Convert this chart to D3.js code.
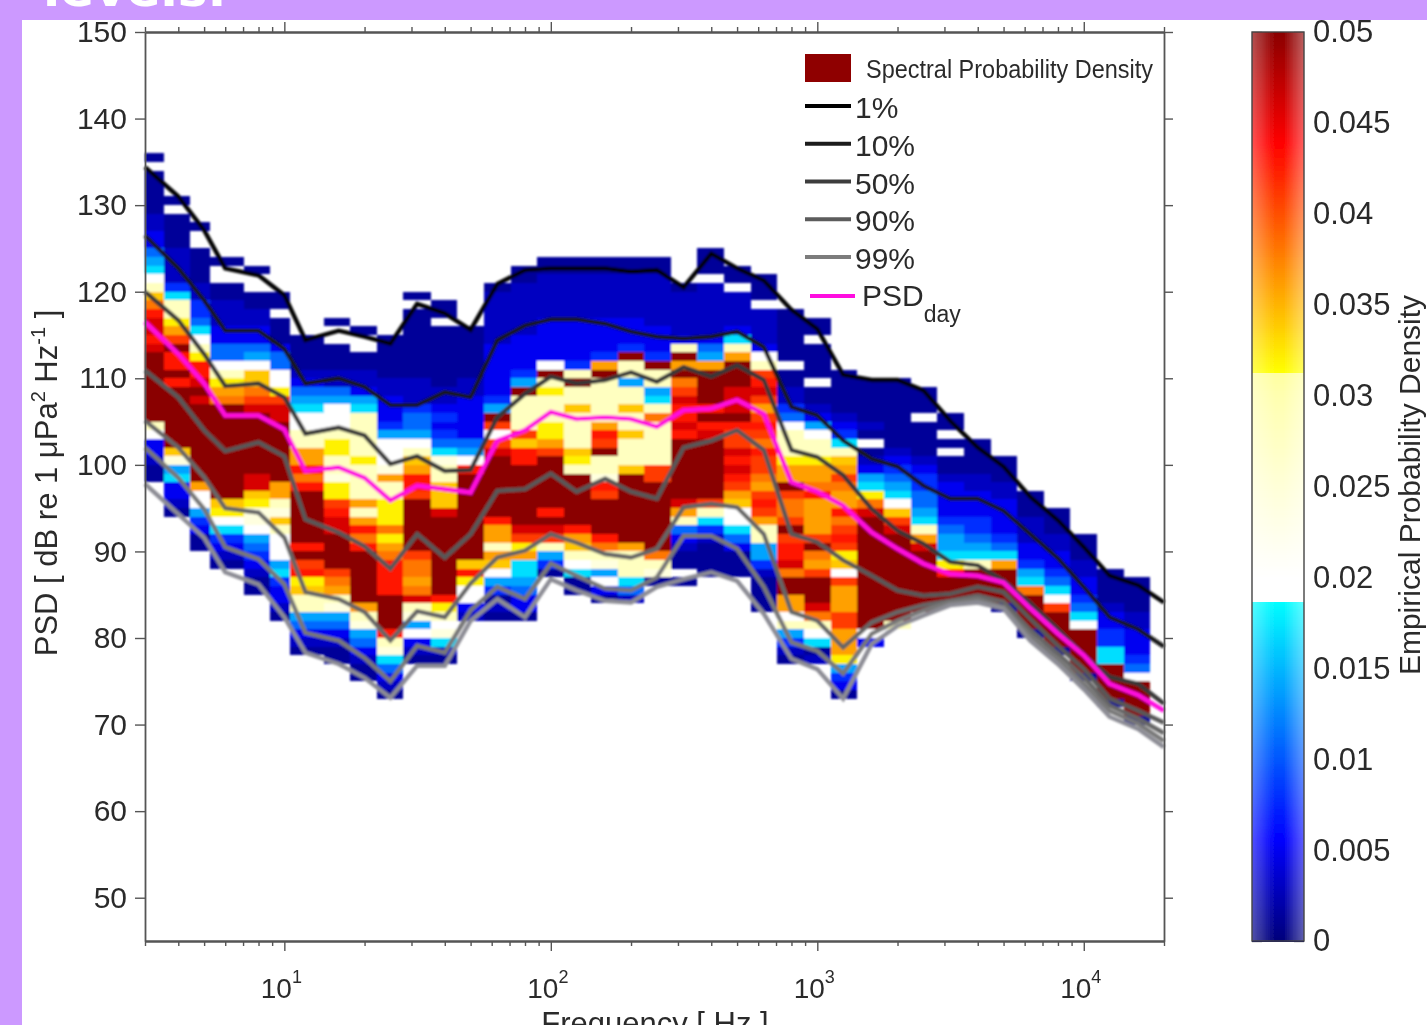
<!DOCTYPE html>
<html>
<head>
<meta charset="utf-8">
<script src="https://cdn.jsdelivr.net/npm/d3@7"></script>
<style>
html, body { margin: 0; padding: 0; background: #cc99ff; overflow: hidden; }
svg { display: block; font-family: "Liberation Sans", Arial, sans-serif; }
</style>
</head>
<body>
<div id="my_dataviz"></div>
<script>
// 1/3 octave band edges in Hz (low end bands are uneven, as in the picture)
var bandEdges = [3, 3.55, 4.44, 5.28, 7.08, 8.86, 10.5, 14.1, 17.7, 22.2, 28, 35.5, 44.6, 56, 71, 89, 112, 141, 178, 224,
  282, 355, 447, 562, 708, 891, 1122, 1413, 1778, 2239, 2818, 3548, 4467, 5623, 7079, 8913, 11220, 14125, 17783];

// top dB bin of each band
var binTop = [136, 131, 128, 124, 123, 120, 115, 117, 116, 115, 120, 119, 116, 121, 123, 124, 124, 124, 124, 124,
  121, 125, 123, 122, 118, 117, 111, 110, 110, 109, 106, 103, 101, 97, 95, 92, 88, 87];

// density for each letter, "." is an empty bin
var densityLevels = {a: 0.0013, b: 0.003, c: 0.005, d: 0.008, e: 0.011, f: 0.014, g: 0.017, h: 0.02, i: 0.024, j: 0.028,
  k: 0.032, l: 0.034, m: 0.036, n: 0.038, o: 0.041, p: 0.043, q: 0.046, r: 0.05};

// one string per band, one letter per 1 dB bin going down from binTop
var bandDensity = [
  "a.aaaaabbccefghjlnpqqpqrrrrrrrrjhccbaa",
  "a.aaaabbbbdgjjkmorpprprrrrrrrlifgccba",
  "a..aaaabbddeghjkppqrqrrrrrrrrrmhhfdcaa",
  "a..aabbbcceehjkmnrrrrrrrrrrrlkhgdcba",
  "a..aabbccefhllnoqrrrrrrrqqlkiihfedcbaa",
  "aa.aaaceehhkoqqrrrrrrrmmjiljhhhfgdccba",
  "aaaabcefghhjjmmpnprrrrrrpropkljjfecba",
  "a..aaabbefhhhjkkjjikkopqqrrrronmjifecbaa",
  "a..aabbcfgjjjjjkjjjjmjmpnprrrrrrmjifecbaa",
  "aaaaabbcccdfhhhimjjkkknkmnpppprrrrpjigecba",
  "a.aaaaaaaabbbdeefhjlmpporrrrrronnmnqjifhcba",
  "aa.aaaaaaabbcdcdegijjlllqrrrrrrrrrpkjhigba",
  "aaaaaabbcccccefhprrrrrrrrrrlpkhhcb",
  "abbbbbbccccccdfrohoqrrrrrrrpmmjmlhfdaba",
  "aabbbbbbccccdfrjjjjolpprrrrrrrqokmggfecca",
  "aabbbbbccccchrjkjjjkkmorrrrrrprqojfda",
  "aabbbbbcccccdjrjjljjjjlkjrrrrrrpmljhgaa",
  "aabbbbbccccdmrjjjjjmporjjiporrrrpnjifhca",
  "aabbbbbcccdrjjfjjljjljjjlrrrrrrrrmjjjgeb",
  "aabbbbbbcccdrjjfgjnjjjjjoorrrrrrrrnjia",
  "abbbbbcjrmrnoqppqprrrrrrrqmjecbaa.a",
  "aaa.bbbbbbcefmrrrrprpqrrrrrrrojgdbaaaa",
  "aa.bbbbcgjmrrrqqqrpooqpqpomlhhgecaaa",
  "aaa.bbbbchjopqomoponpoonmopomjjffdbaaaa",
  "aaaaaa.aabbdehjjjkmmronnoroppqnrrmmhjfdba",
  "aa.aaaa.aabcfhjjkmmnpmmmmornmorrrqnjhgab",
  "aaaaabcdgjlmonmmpnopoklhommmoommmkfdca",
  "aaaaaba.abcfgknqrrrrrrrrrrrrrhc",
  "aaaaaaaabcdefghloqrrrrrrrrrrj",
  "aaa.aaaabcddeefgjmqrrrrrrr",
  "aa.a.aabccccdeffgkprrr",
  "aaaabbcccddefgjrrrr",
  "aaabbccccdegmrrrra",
  "aaabbbccdfgnrrrra",
  "aaabbccdeghorrrra",
  "aaabbccdeghrrrrra",
  "aaaabccddggrrrra",
  "aaaabbcccdehrrrra"
];

// frequencies of the line vertices
var lineFreqs = [3, 4, 5, 6, 8, 10, 12, 16, 20, 25, 31.5, 40, 50, 63, 80, 100, 125, 160, 200, 250, 315, 400, 500, 630, 800,
  1000, 1250, 1600, 2000, 2500, 3150, 4000, 5000, 6300, 8000, 10000, 12500, 16000, 20000];

var line1 = [134.4, 131, 127.1, 122.7, 121.9, 119.6, 114.4, 115.5, 114.8, 114, 118.6, 117.5, 115.6, 120.9, 122.5, 122.7, 122.7, 122.7, 122.3, 122.5,
  120.5, 124.4, 122.7, 121.3, 117.9, 115.7, 110.4, 109.8, 109.8, 108.6, 105.1, 102, 99.8, 96.3, 93.6, 90.5, 87.2, 86.1, 84.1];
var line2 = [126.5, 122.7, 119, 115.5, 115.5, 113.4, 109.4, 110, 109, 106.9, 106.9, 108.4, 107.8, 114.4, 116.1, 116.8, 116.8, 116.3, 115.4, 114.8,
  114.6, 114.8, 115.4, 113.6, 106.7, 105.7, 102.8, 100.7, 99.8, 97.6, 96.1, 96.1, 94.7, 92, 89.2, 85.9, 82.4, 81, 79];
var line3 = [120, 116.7, 112.8, 109.1, 109.4, 107.8, 103.6, 104.3, 103.4, 100.1, 101, 99.3, 99.4, 105.5, 108.2, 110.2, 109.4, 109.8, 110.7, 109.6,
  111.3, 110.2, 111.5, 109.8, 101.7, 100.9, 98.8, 94.9, 92.4, 90.9, 88.8, 88.4, 86.6, 84, 81, 78, 75.5, 74.7, 72.4];
var line4 = [110.9, 107.8, 104, 101.6, 102.6, 101, 93.7, 92.2, 90.6, 88, 92, 89.3, 92, 97, 97.2, 99, 96.9, 98.4, 96.9, 96.1,
  102, 102.8, 104, 101.7, 92, 91.1, 89, 87.2, 85.5, 84.9, 85.1, 85.9, 85.3, 82.2, 79.1, 76.4, 73, 71.6, 70.2];
var line5 = [105.1, 102, 98.6, 95, 94.5, 91.6, 85.3, 84.5, 83, 79.7, 83.1, 82.4, 86.3, 89.3, 90.1, 92, 91, 89.7, 89.3, 90.3,
  95.1, 95.5, 95.1, 92, 83, 82, 78.9, 81.8, 83, 83.8, 84.3, 84.9, 84.2, 80.9, 78.2, 75.5, 72.2, 70.7, 69];
var line6 = [102, 98.5, 94.9, 90.5, 89.1, 86.2, 80.6, 79.7, 77.7, 75, 79.1, 78.3, 83.2, 85.9, 84.5, 88.6, 87.2, 85.7, 85.5, 87,
  91.8, 91.8, 90.3, 85.9, 79.5, 78.5, 75.9, 80.5, 82, 83.2, 84.1, 84.5, 83.6, 80.3, 77.6, 74.7, 71.6, 70.1, 68.1];
var line7 = [97.8, 94.3, 91.6, 87.6, 86.2, 82.4, 78.3, 77, 75.4, 73.1, 76.8, 76.8, 82, 84.5, 82.4, 86.8, 85.5, 84.3, 84.1, 85.9,
  86.8, 87.6, 86.6, 82.8, 77.6, 76.4, 73, 79.3, 81.4, 82.6, 83.8, 84.1, 83.4, 79.7, 77, 74.1, 70.9, 69.5, 67.4];
var psdDay = [116.5, 112.8, 109.4, 105.7, 105.7, 104.1, 99.3, 99.7, 98.5, 95.9, 97.6, 97.2, 96.8, 102.8, 104, 106.1, 105.3, 105.5, 105.3, 104.4,
  106.3, 106.5, 107.5, 105.9, 98, 96.9, 95.3, 92.2, 90.3, 88.6, 87.4, 87.2, 86.4, 83.4, 80.5, 78, 74.7, 73.4, 71.6];

var lineSeries = [line1, line2, line3, line4, line5, line6, line7];
var lineColors = ["#000000", "#181818", "#383838", "#585858", "#666666", "#787878", "#8c8c94"];

var legendLabels = ["1%", "10%", "50%", "90%", "99%"];
var legendColors = ["#000000", "#1c1c1c", "#3c3c3c", "#5c5c5c", "#7c7c7c"];

var yTicks = [50, 60, 70, 80, 90, 100, 110, 120, 130, 140, 150];
var xDecades = [10, 100, 1000, 10000];
var barTicks = [0, 0.005, 0.01, 0.015, 0.02, 0.025, 0.03, 0.035, 0.04, 0.045, 0.05];

var width = 1427, height = 1025;

var svg = d3.select("#my_dataviz").append("svg")
    .attr("width", width)
    .attr("height", height);

// soft edges, the reference is a low quality jpeg
var defs = svg.append("defs");
defs.append("filter").attr("id", "soft").append("feGaussianBlur").attr("stdDeviation", 1.1);
defs.append("filter").attr("id", "softText").append("feGaussianBlur").attr("stdDeviation", 0.5);

// background and title remnant
svg.append("rect").attr("width", width).attr("height", height).attr("fill", "#cc99ff");
svg.append("text")
    .attr("x", 43).attr("y", 6)
    .attr("fill", "#fff")
    .style("font-family", "'DejaVu Sans'")
    .style("font-weight", "bold")
    .style("font-size", "50px")
    .text("levels.");
svg.append("rect").attr("x", 22).attr("y", 20).attr("width", width - 22).attr("height", height - 20).attr("fill", "#fff");

var x = d3.scaleLog().domain([3, 20000]).range([145, 1164]);
var y = d3.scaleLinear().domain([45, 150]).range([941, 32]);

// jet with a white/pale yellow middle section
var color = d3.scaleLinear()
    .domain([0, 0.0056, 0.0187, 0.0187, 0.02, 0.03, 0.0313, 0.0313, 0.0439, 0.05])
    .range(["#00007a", "#0000ff", "#00ffff", "#ffffff", "#ffffff", "#ffffb0", "#ffffa0", "#ffff00", "#ff0000", "#8a0000"]);

// spectral probability density cells
var cells = [];
bandDensity.forEach(function(str, i) {
  str.split("").forEach(function(ch, k) {
    if (ch != ".") {
      cells.push({x0: bandEdges[i], x1: i + 1 < bandEdges.length ? bandEdges[i + 1] : 20000, db: binTop[i] - k, v: densityLevels[ch]});
    }
  });
});

var plot = svg.append("g").attr("filter", "url(#soft)");
plot.selectAll("rect")
    .data(cells)
    .enter()
    .append("rect")
    .attr("x", function(d) { return x(d.x0); })
    .attr("y", function(d) { return y(d.db); })
    .attr("width", function(d) { return x(d.x1) - x(d.x0); })
    .attr("height", function(d) { return y(d.db - 1) - y(d.db); })
    .attr("shape-rendering", "crispEdges")
    .attr("fill", function(d) { return color(d.v); });

var line = d3.line()
    .x(function(d, i) { return x(lineFreqs[i]); })
    .y(function(d) { return y(d); });

plot.selectAll(".pct")
    .data(lineSeries)
    .enter()
    .append("path")
    .attr("class", "pct")
    .attr("d", line)
    .attr("fill", "none")
    .attr("stroke", function(d, i) { return lineColors[i]; })
    .attr("stroke-width", 4.4);

plot.append("path")
    .attr("d", line(psdDay))
    .attr("fill", "none")
    .attr("stroke", "#ff10e0")
    .attr("stroke-width", 4.6);

// axes
var chrome = svg.append("g").attr("filter", "url(#softText)");

function styleAxis(g) {
  g.selectAll(".domain").attr("stroke", "#555").attr("stroke-width", 1.8);
  g.selectAll("line").attr("stroke", "#555").attr("stroke-width", 1.4);
  g.selectAll("text").attr("fill", "#2c2c2c").style("font-size", "30px");
}

var minorTicks = [];
[1, 10, 100, 1000, 10000].forEach(function(dec) {
  d3.range(1, 10).forEach(function(m) {
    var f = dec * m;
    if (f >= 3 && f <= 20000 && xDecades.indexOf(f) < 0) minorTicks.push(f);
  });
});

var yLeft = chrome.append("g").attr("transform", "translate(145,0)")
    .call(d3.axisLeft(y).tickValues(yTicks).tickSize(10).tickPadding(8).tickSizeOuter(0));
var yRight = chrome.append("g").attr("transform", "translate(1164,0)")
    .call(d3.axisRight(y).tickValues(yTicks).tickSize(9).tickFormat("").tickSizeOuter(0));

[[941, d3.axisBottom], [32, d3.axisTop]].forEach(function(a) {
  chrome.append("g").attr("transform", "translate(0," + a[0] + ")")
      .call(a[1](x).tickValues(minorTicks).tickSize(5).tickFormat("").tickSizeOuter(0))
      .call(styleAxis);
  chrome.append("g").attr("transform", "translate(0," + a[0] + ")")
      .call(a[1](x).tickValues(xDecades).tickSize(10).tickFormat("").tickSizeOuter(0))
      .call(styleAxis);
});
yLeft.call(styleAxis);
yRight.call(styleAxis);

// decade labels with superscript exponents
var decadeLabels = chrome.selectAll(".decade")
    .data(xDecades)
    .enter()
    .append("text")
    .attr("class", "decade")
    .attr("x", function(d) { return x(d) - 3; })
    .attr("y", 998)
    .attr("text-anchor", "middle")
    .attr("fill", "#2c2c2c")
    .style("font-size", "28px");
decadeLabels.append("tspan").text("10");
decadeLabels.append("tspan")
    .attr("dy", -15)
    .style("font-size", "18px")
    .text(function(d) { return Math.round(Math.log10(d)); });

chrome.append("text")
    .attr("x", 655).attr("y", 1034)
    .attr("text-anchor", "middle")
    .attr("fill", "#2c2c2c")
    .style("font-size", "31px")
    .text("Frequency [ Hz ]");

var yLabel = chrome.append("text")
    .attr("transform", "translate(57,483) rotate(-90)")
    .attr("text-anchor", "middle")
    .attr("fill", "#2c2c2c")
    .style("font-size", "31px");
yLabel.append("tspan").text("PSD [ dB re 1 μPa");
yLabel.append("tspan").attr("dy", -12).style("font-size", "20px").text("2");
yLabel.append("tspan").attr("dy", 12).text(" Hz");
yLabel.append("tspan").attr("dy", -12).style("font-size", "20px").text("-1");
yLabel.append("tspan").attr("dy", 12).text(" ]");

// legend
var legend = chrome.append("g");
legend.append("rect")
    .attr("x", 805).attr("y", 54).attr("width", 46).attr("height", 28)
    .attr("fill", "#8f0404");
legend.append("text")
    .attr("x", 866).attr("y", 78)
    .attr("textLength", 287)
    .attr("lengthAdjust", "spacingAndGlyphs")
    .attr("fill", "#2c2c2c")
    .style("font-size", "25px")
    .text("Spectral Probability Density");

var legendRow = d3.scaleLinear().domain([0, 4]).range([106, 257]);
var rows = legend.selectAll(".row")
    .data(legendLabels)
    .enter()
    .append("g")
    .attr("class", "row")
    .attr("transform", function(d, i) { return "translate(0," + legendRow(i) + ")"; });
rows.append("line")
    .attr("x1", 805).attr("x2", 851)
    .attr("stroke", function(d, i) { return legendColors[i]; })
    .attr("stroke-width", 4);
rows.append("text")
    .attr("x", 855).attr("y", 12)
    .attr("fill", "#2c2c2c")
    .style("font-size", "30px")
    .text(function(d) { return d; });

legend.append("line")
    .attr("x1", 810).attr("x2", 855).attr("y1", 296).attr("y2", 296)
    .attr("stroke", "#ff10e0").attr("stroke-width", 4);
var psdLabel = legend.append("text")
    .attr("x", 862).attr("y", 306)
    .attr("fill", "#2c2c2c")
    .style("font-size", "30px");
psdLabel.append("tspan").text("PSD");
psdLabel.append("tspan").attr("dy", 16).style("font-size", "23px").text("day");

// colorbar
var barY = d3.scaleLinear().domain([0, 0.05]).range([941, 32]);
var barSteps = d3.range(0, 0.05, 0.0001);
var bar = svg.append("g").attr("filter", "url(#softText)");
bar.selectAll("rect")
    .data(barSteps)
    .enter()
    .append("rect")
    .attr("x", 1252).attr("width", 52)
    .attr("y", function(d) { return barY(d + 0.0001); })
    .attr("height", function(d) { return barY(d) - barY(d + 0.0001) + 1; })
    .attr("shape-rendering", "crispEdges")
    .attr("fill", function(d) { return color(d); });

// lighter sides of the bar
var sheen = defs.append("linearGradient").attr("id", "sheen");
sheen.append("stop").attr("offset", "0%").attr("stop-color", "#fff").attr("stop-opacity", 0.32);
sheen.append("stop").attr("offset", "45%").attr("stop-color", "#fff").attr("stop-opacity", 0);
sheen.append("stop").attr("offset", "60%").attr("stop-color", "#fff").attr("stop-opacity", 0);
sheen.append("stop").attr("offset", "100%").attr("stop-color", "#fff").attr("stop-opacity", 0.38);
bar.append("rect")
    .attr("x", 1252).attr("y", 32).attr("width", 52).attr("height", 909)
    .attr("fill", "url(#sheen)");
bar.append("rect")
    .attr("x", 1252).attr("y", 32).attr("width", 52).attr("height", 909)
    .attr("fill", "none").attr("stroke", "#444").attr("stroke-width", 1.4);

var fmt = function(d) { return d == 0 ? "0" : String(d); };
var barAxis = chrome.append("g").attr("transform", "translate(1304,0)")
    .call(d3.axisRight(barY).tickValues(barTicks).tickSize(-10).tickPadding(9).tickFormat(fmt).tickSizeOuter(0));
barAxis.select(".domain").remove();
barAxis.selectAll("line").attr("stroke", "#444").attr("stroke-width", 1.3);
barAxis.selectAll("text").attr("fill", "#2c2c2c").style("font-size", "31px");
var barAxisLeft = chrome.append("g").attr("transform", "translate(1252,0)")
    .call(d3.axisLeft(barY).tickValues(barTicks).tickSize(-10).tickFormat("").tickSizeOuter(0));
barAxisLeft.select(".domain").remove();
barAxisLeft.selectAll("line").attr("stroke", "#444").attr("stroke-width", 1.3);

chrome.append("text")
    .attr("transform", "translate(1420,485) rotate(-90)")
    .attr("text-anchor", "middle")
    .attr("fill", "#2c2c2c")
    .style("font-size", "30px")
    .text("Empirical Probability Density");
</script>
</body>
</html>
